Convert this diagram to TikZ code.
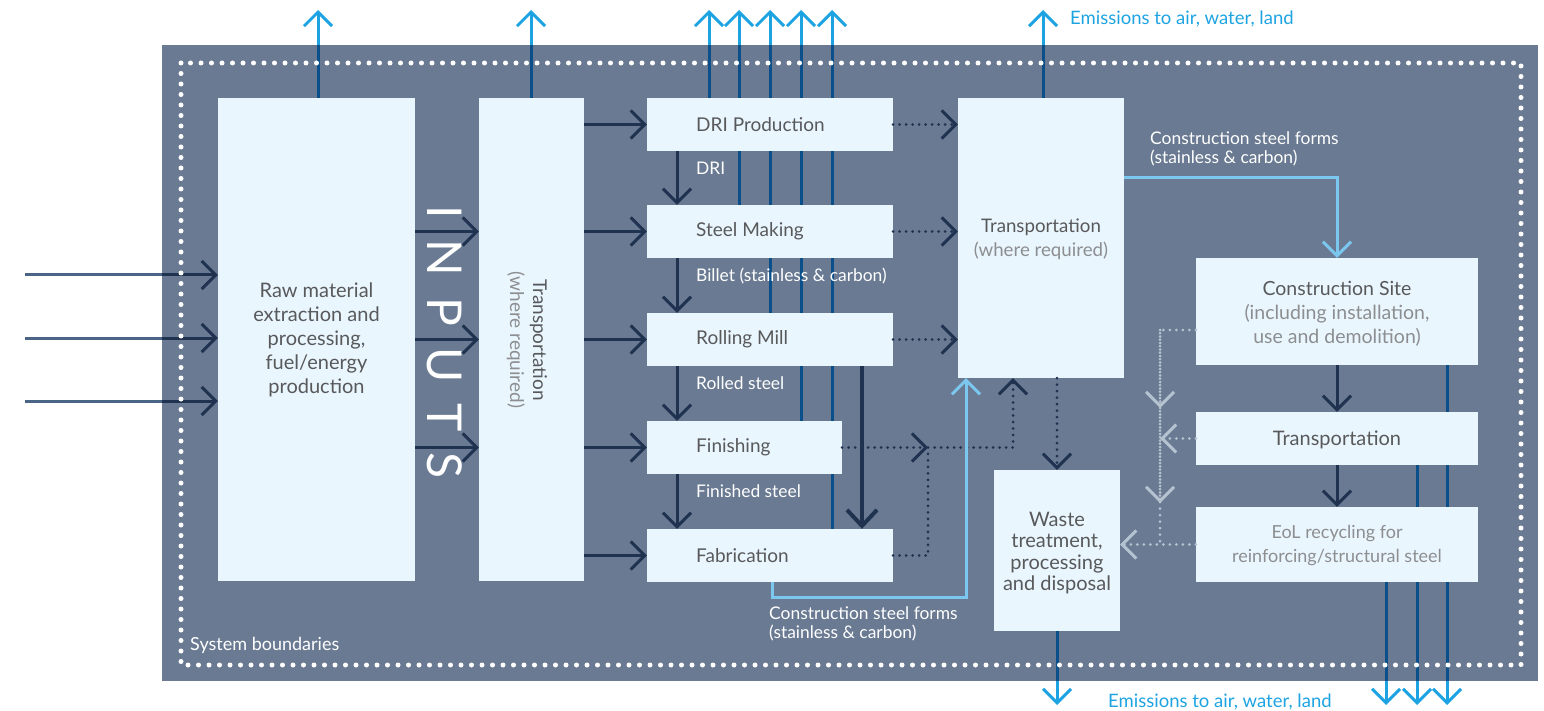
\documentclass[tikz,border=0pt]{standalone}
\usepackage{fontspec}
\setmainfont{Lato}
\usetikzlibrary{arrows.meta,calc}
\definecolor{bgc}{HTML}{697A92}
\definecolor{boxc}{HTML}{EAF6FE}
\definecolor{navy}{HTML}{1F3350}
\definecolor{edark}{HTML}{0B4F8A}
\definecolor{ebright}{HTML}{1EA3E2}
\definecolor{lblue}{HTML}{7CC7EF}
\definecolor{lgray}{HTML}{B5C2D0}
\definecolor{txt}{HTML}{58595B}
\definecolor{txtl}{HTML}{8C8E90}
\definecolor{inlight}{HTML}{4B6586}
\pgfdeclarelayer{back}
\pgfdeclarelayer{lines}
\pgfdeclarelayer{dots}
\pgfsetlayers{back,lines,dots,main}
\begin{document}
\begin{tikzpicture}[x=1pt,y=-1pt,
  box/.style={fill=boxc, draw=none, inner sep=0pt},
  tip/.style={-{Straight Barb[length=14pt,width=28pt]}},
  solidnavy/.style={navy, line width=3pt, tip},
  thicknavy/.style={navy, line width=4pt, -{Straight Barb[length=16pt,width=30pt]}},
  dotnavy/.style={navy, line width=3pt, dash pattern=on 0pt off 6.5pt, line cap=round},
  dotgray/.style={lgray, line width=3pt, dash pattern=on 0pt off 6.5pt, line cap=round},
  lbl/.style={lblue, line width=3pt},
  emitb/.style={ebright, line width=3pt, tip},
  emitd/.style={edark, line width=3pt},
  btxt/.style={text=txt, font=\fontsize{19.5}{24}\selectfont, align=center, inner sep=0pt},
  ltxt/.style={text=txtl, font=\fontsize{18}{24}\selectfont, align=center, inner sep=0pt},
  ptxt/.style={text=txt, font=\fontsize{19}{24}\selectfont, anchor=west, inner sep=0pt},
  wlab/.style={text=white, font=\fontsize{17.4}{19}\selectfont, anchor=west, align=left, inner sep=0pt},
  elab/.style={text=ebright, font=\fontsize{18.5}{19}\selectfont, anchor=west, inner sep=0pt}
]
\useasboundingbox (0,0) rectangle (1544,711);

% background
\begin{pgfonlayer}{back}
\node[fill=bgc, minimum width=1376, minimum height=636, inner sep=0pt, anchor=north west] (bg) at (162,45) {};
\end{pgfonlayer}

% boxes
\node[box, minimum width=197, minimum height=483] (raw) at (316.5,339.5) {};
\node[box, minimum width=105, minimum height=483] (tv) at (531.5,339.5) {};
\node[box, minimum width=246, minimum height=53] (dri) at (770,124.5) {};
\node[box, minimum width=246, minimum height=53] (sm) at (770,231.5) {};
\node[box, minimum width=246, minimum height=53] (rm) at (770,339.5) {};
\node[box, minimum width=195, minimum height=53] (fin) at (744.5,447.5) {};
\node[box, minimum width=246, minimum height=53] (fab) at (770,555.5) {};
\node[box, minimum width=166, minimum height=280] (tr) at (1041,238) {};
\node[box, minimum width=282, minimum height=107] (cs) at (1337,311.5) {};
\node[box, minimum width=282, minimum height=53] (tr2) at (1337,438.5) {};
\node[box, minimum width=282, minimum height=75] (eol) at (1337,544.5) {};
\node[box, minimum width=126, minimum height=161] (wt) at (1057,550.5) {};

% emissions (behind boxes)
\begin{pgfonlayer}{lines}
\foreach \src/\xx in {raw/318, tv/531, dri/709, sm/739, rm/770, fin/801, fab/832, tr/1043} {
  \coordinate (t\src) at (\xx,10);
  \draw[emitb] (t\src |- \src) -- (t\src);
  \draw[emitd] (t\src |- \src) -- (t\src |- bg.north);
}
\foreach \src/\xx in {wt/1057, eol/1386, tr2/1417, cs/1447} {
  \coordinate (b\src) at (\xx,705);
  \draw[emitb] (b\src |- \src) -- (b\src);
  \draw[emitd] (b\src |- \src) -- (b\src |- bg.south);
}
% input arrows
\foreach \i/\yy in {1/275, 2/338, 3/401} {
  \coordinate (in\i) at (25,\yy);
  \draw[solidnavy] (in\i) -- (raw.west |- in\i);
  \draw[inlight, line width=3pt] (in\i) -- (bg.west |- in\i);
}
\end{pgfonlayer}

% system boundary
\begin{pgfonlayer}{dots}
\draw[white, line width=5pt, dash pattern=on 0pt off 10.5pt, line cap=round] (181,63) rectangle (1521,665);
\end{pgfonlayer}

% box texts
\node[btxt, font=\fontsize{20}{24}\selectfont] (rawt) at (raw) {Raw material\\extraction and\\processing,\\fuel/energy\\production};
\node[white, rotate=-90, font=\fontsize{48}{48}\selectfont, inner sep=0pt] (inputs) at (445,342) {I\hspace{21pt}N\hspace{21pt}P\hspace{21pt}U\hspace{21pt}T\hspace{21pt}S};
\node[btxt, rotate=-90, font=\fontsize{19}{23}\selectfont] (tvt) at (527,340) {Transportation\\{\color{txtl}(where required)}};
\node[ptxt] (drit) at (696,124.5) {DRI Production};
\node[ptxt] (smt) at (696,231.5) {Steel Making};
\node[ptxt] (rmt) at (696,339.5) {Rolling Mill};
\node[ptxt] (fint) at (696,447.5) {Finishing};
\node[ptxt] (fabt) at (696,555.5) {Fabrication};
\node[btxt, font=\fontsize{18.7}{24}\selectfont] (trt) at (1041,239.5) {Transportation\\{\color{txtl}(where required)}};
\node[btxt] (cst) at (1337,314) {Construction Site\\{\color{txtl}(including installation,}\\{\color{txtl}use and demolition)}};
\node[btxt, font=\fontsize{20}{24}\selectfont] (tr2t) at (1337,440) {Transportation};
\node[ltxt] (eolt) at (1337,546) {EoL recycling for\\reinforcing/structural steel};
\node[btxt, font=\fontsize{20}{21.5}\selectfont] (wtt) at (1057,553) {Waste\\treatment,\\processing\\and disposal};

% labels
\node[wlab] (l1) at (696,168) {DRI};
\node[wlab] (l2) at (696,276) {Billet (stainless \& carbon)};
\node[wlab] (l3) at (696,383) {Rolled steel};
\node[wlab] (l4) at (696,491) {Finished steel};
\node[wlab] (l5) at (769,623.5) {Construction steel forms\\(stainless \& carbon)};
\node[wlab] (l6) at (1150,148.5) {Construction steel forms\\(stainless \& carbon)};
\node[wlab, font=\fontsize{18}{19}\selectfont] (l7) at (190,645) {System boundaries};
\node[elab] (l8) at (1070,19) {Emissions to air, water, land};
\node[elab] (l9) at (1108,702) {Emissions to air, water, land};

% INPUTS arrows
\foreach \b in {sm, rm, fin} {
  \draw[solidnavy] (raw.east |- \b) -- (tv.west |- \b);
}
% transport to processes
\foreach \b in {dri, sm, rm, fin, fab} {
  \draw[solidnavy] (tv.east |- \b) -- (\b.west);
}
% downward flow
\coordinate (dc) at (677,0);
\draw[solidnavy] (dri.south -| dc) -- (sm.north -| dc);
\draw[solidnavy] (sm.south -| dc) -- (rm.north -| dc);
\draw[solidnavy] (rm.south -| dc) -- (fin.north -| dc);
\draw[solidnavy] (fin.south -| dc) -- (fab.north -| dc);
\coordinate (tc) at (862,0);
\draw[thicknavy] (rm.south -| tc) -- (fab.north -| tc);

% dotted to transport
\foreach \b in {dri, sm, rm} {
  \draw[dotnavy, tip] (\b.east) -- (tr.west |- \b);
}
\coordinate (j1) at (928,447.5);
\coordinate (j2) at (1013,447.5);
\draw[dotnavy, tip] (fin.east) -- (j1);
\draw[dotnavy] (fab.east) -- (fab.east -| j1) -- (j1);
\draw[dotnavy, tip] (j1) -- (j2) -- (tr.south -| j2);
\draw[dotnavy, tip] (tr.south -| wt.north) -- (wt.north);

% light blue flows
\coordinate (lb1) at (772,597);
\coordinate (lb2) at (966,597);
\draw[lbl, tip] (fab.south -| lb1) -- (lb1) -- (lb2) -- (tr.south -| lb2);
\coordinate (lb3) at (1337,178);
\draw[lbl, tip] (tr.east |- lb3) -- (lb3) -- (cs.north);

% right column
\draw[solidnavy] (cs.south) -- (tr2.north);
\draw[solidnavy] (tr2.south) -- (eol.north);

% grey dotted returns
\coordinate (g1) at (1160,330);
\coordinate (g2) at (1160,408);
\coordinate (g3) at (1160,503);
\coordinate (g4) at (1160,545);
\draw[dotgray] (cs.west |- g1) -- (g1) -- (g4);
\draw[dotgray, tip] (g1) -- (g2);
\draw[dotgray, tip] (g2) -- (g3);
\draw[dotgray, tip] (tr2.west) -- (tr2.west -| g1);
\draw[dotgray, tip] (eol.west) -- (wt.east |- eol.west);
\end{tikzpicture}
\end{document}
